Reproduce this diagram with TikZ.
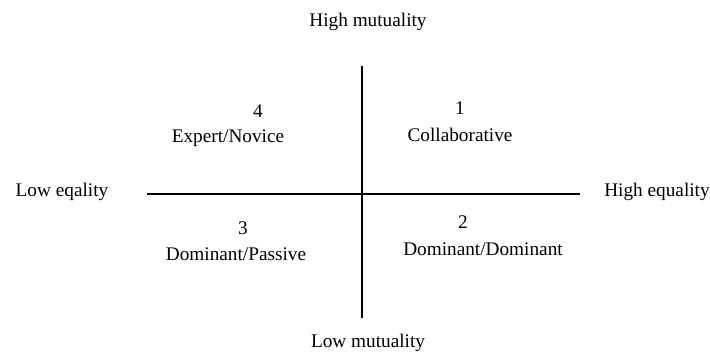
\documentclass[tikz,border=0pt]{standalone}
\usepackage{fontspec}
\setmainfont{Liberation Serif}

\begin{document}
\begin{tikzpicture}[x=0.025cm,y=-0.025cm, every node/.style={font=\fontsize{13.7}{15}\selectfont}]
        \useasboundingbox (0,0) rectangle (710,352);
        \coordinate (top) at (362,66);
        \coordinate (bottom) at (362,318);
        \coordinate (left) at (147,194);
        \coordinate (right) at (580,194);
        \node (HM) at (368,22) {High mutuality};
        \node (LM) at (368,343) {Low mutuality};
        \node (LE) at (62,192) {Low eqality};
        \node (HE) at (657,192) {High equality};
        \node (N4) at (258,111) {4};
        \node (Q4) at (228,138) {Expert/Novice};
        \node (N1) at (460,108) {1};
        \node (Q1) at (460,135) {Collaborative};
        \node (N3) at (243,228) {3};
        \node (Q3) at (236,254) {Dominant/Passive};
        \node (N2) at (463,222) {2};
        \node (Q2) at (483,249) {Dominant/Dominant};
        \draw[line width=0.9pt] (top) -- (bottom);
        \draw[line width=0.9pt] (left) -- (right);
    \end{tikzpicture}
\end{document}
